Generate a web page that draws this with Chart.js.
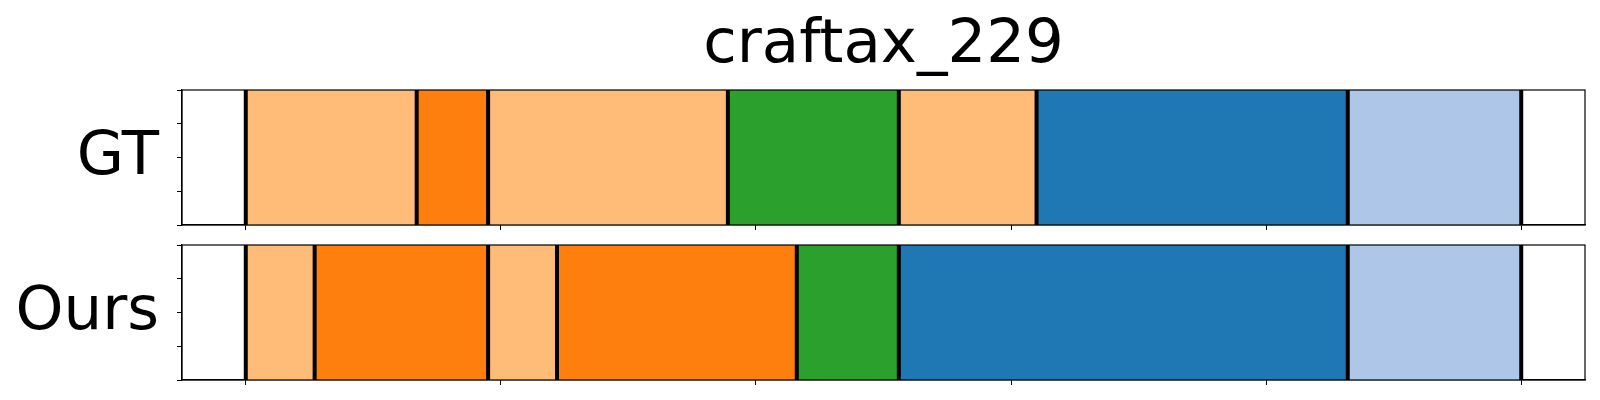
<!DOCTYPE html>
<html>
<head>
<meta charset="utf-8">
<script src="https://cdn.jsdelivr.net/npm/chart.js@4/dist/chart.umd.min.js"></script>
<style>
  html, body { margin: 0; padding: 0; background: #fff; }
  body { width: 1600px; height: 400px; position: relative; overflow: hidden; }
  .panel { position: absolute; left: 0; width: 1600px; height: 240px; }
</style>
</head>
<body>
<div class="panel" style="top:0"><canvas id="gt"></canvas></div>
<div class="panel" style="top:155px"><canvas id="ours"></canvas></div>
<script>
const chartTitle = 'craftax_229';
const rowLabels = ['GT', 'Ours'];

// segment boundaries (frame units) and the action class of each segment
const gtBounds = [0, 67, 95, 189, 256, 310, 432, 500];
const gtClasses = [3, 2, 3, 4, 3, 0, 1];
const oursBounds = [0, 27, 95, 122, 216, 256, 432, 500];
const oursClasses = [3, 2, 3, 2, 4, 0, 1];

const xTicks = [0, 100, 200, 300, 400, 500];
const yTicks = [0, 0.25, 0.5, 0.75, 1];

// matplotlib tab20
const tab20 = ['#1f77b4', '#aec7e8', '#ff7f0e', '#ffbb78', '#2ca02c', '#98df8a'];

const FONT = '"DejaVu Sans", sans-serif';

function textPlugin(label, withTitle) {
    return {
        id: 'texts',
        afterDraw(chart) {
            const { ctx, chartArea: a } = chart;
            ctx.save();
            // frame (all four spines)
            ctx.strokeStyle = '#000';
            ctx.lineWidth = 1.2;
            ctx.strokeRect(a.left, a.top, a.right - a.left, a.bottom - a.top);
            ctx.fillStyle = '#000';
            ctx.font = '61px ' + FONT;
            ctx.textBaseline = 'alphabetic';
            ctx.textAlign = 'right';
            ctx.fillText(label, a.left - 23, (a.top + a.bottom) / 2 + 16);
            if (withTitle) {
                ctx.textAlign = 'center';
                ctx.fillText(chartTitle, (a.left + a.right) / 2, 62);
            }
            ctx.restore();
        }
    };
}

function renderSegments(canvasId, bounds, classes, label, withTitle) {
    const datasets = [];
    classes.forEach((c, i) => {
        datasets.push({
            type: 'bar',
            indexAxis: 'y',
            order: 1,
            data: [[bounds[i], bounds[i + 1]]],
            backgroundColor: tab20[c],
            borderWidth: 0,
            barPercentage: 1,
            categoryPercentage: 1,
            grouped: false,
            xAxisID: 'x',
            yAxisID: 'y'
        });
    });
    // black separators at every boundary, drawn on top of the bars
    bounds.forEach(b => {
        datasets.push({
            type: 'line',
            order: 0,
            data: [{ x: b, y: 0 }, { x: b, y: 1 }],
            borderColor: '#000',
            borderWidth: 4,
            pointRadius: 0,
            xAxisID: 'x',
            yAxisID: 'yt'
        });
    });

    return new Chart(document.getElementById(canvasId), {
        data: { labels: [''], datasets },
        options: {
            responsive: true,
            maintainAspectRatio: false,
            animation: false,
            layout: { padding: { left: 177, right: 15, top: 90, bottom: 0 } },
            plugins: { legend: { display: false }, tooltip: { enabled: false }, title: { display: false } },
            scales: {
                x: {
                    type: 'linear',
                    min: -25,
                    max: 525,
                    afterBuildTicks: s => { s.ticks = xTicks.map(v => ({ value: v })); },
                    afterFit: s => { s.height = 15; },
                    ticks: { display: false },
                    grid: { drawOnChartArea: false, drawTicks: true, tickLength: 5, color: '#000', tickWidth: 1 },
                    border: { display: true, color: '#000', width: 1.2 }
                },
                y: { type: 'category', display: false, offset: true },
                yt: {
                    type: 'linear',
                    position: 'left',
                    min: 0,
                    max: 1,
                    afterBuildTicks: s => { s.ticks = yTicks.map(v => ({ value: v })); },
                    afterFit: s => { s.width = 5; },
                    ticks: { display: false },
                    grid: { drawOnChartArea: false, drawTicks: true, tickLength: 5, color: '#000', tickWidth: 1 },
                    border: { display: true, color: '#000', width: 1.2 }
                }
            }
        },
        plugins: [textPlugin(label, withTitle)]
    });
}

renderSegments('gt', gtBounds, gtClasses, rowLabels[0], true);
renderSegments('ours', oursBounds, oursClasses, rowLabels[1], false);
</script>
</body>
</html>
